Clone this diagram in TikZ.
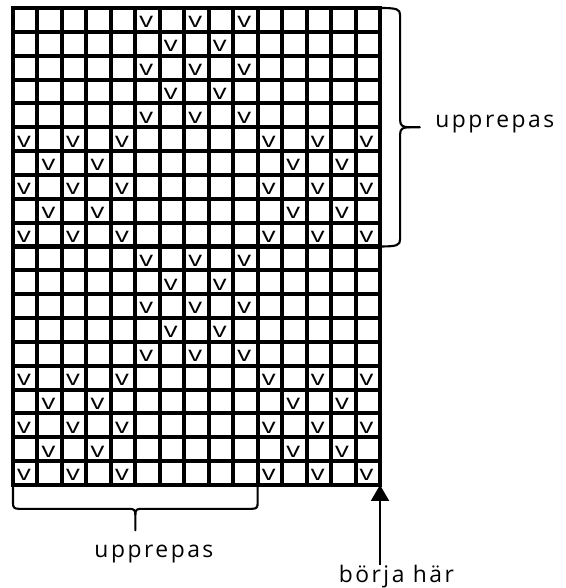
\documentclass[tikz,border=0pt]{standalone}
\usepackage{fontspec}
\usetikzlibrary{arrows.meta}
\newfontfamily\labelfont[LetterSpace=11]{Open Sans}
\newfontfamily\stitchfont{Open Sans}
\definecolor{chartBlack}{RGB}{0, 0, 0}

\begin{document}
\begin{tikzpicture}[x=0.4894cm, y=-0.477cm,
    gridline/.style={chartBlack, line width=2.3pt, line cap=rect},
    bracepath/.style={chartBlack, line width=1.2pt, line cap=round, line join=round},
    stitch/.style={font=\stitchfont\fontsize{12}{12}\selectfont, inner sep=0pt, anchor=base},
    label/.style={font=\labelfont\fontsize{13}{13}\selectfont, inner sep=0pt}]
  \useasboundingbox (-0.531,-0.335) rectangle (22.60,24.32);
  % chart grid, 15 stitches x 20 rows
  \foreach \c in {0,...,15}
    \draw[gridline] (\c,0) -- (\c,20);
  \foreach \r in {0,...,20}
    \draw[gridline] (0,\r) -- (15,\r);
  % v stitches, rows counted from the top
  \foreach \r/\cols in {1/{6,8,10}, 2/{7,9}, 3/{6,8,10}, 4/{7,9}, 5/{6,8,10},
      6/{1,3,5,11,13,15}, 7/{2,4,12,14}, 8/{1,3,5,11,13,15}, 9/{2,4,12,14}, 10/{1,3,5,11,13,15},
      11/{6,8,10}, 12/{7,9}, 13/{6,8,10}, 14/{7,9}, 15/{6,8,10},
      16/{1,3,5,11,13,15}, 17/{2,4,12,14}, 18/{1,3,5,11,13,15}, 19/{2,4,12,14}, 20/{1,3,5,11,13,15}}
    \foreach \c in \cols
      \node[stitch] (v-\r-\c) at (\c-0.55,\r-0.17) {\scalebox{1.3}[1]{v}};
  % brace over the repeated rows
  \draw[bracepath] (15,0) .. controls (15.7,0) and (15.82,0.05) .. (15.82,0.3) -- (15.82,4.7)
    .. controls (15.82,4.95) and (15.95,5) .. (16.2,5) -- (16.63,5);
  \draw[bracepath] (16.2,5) .. controls (15.95,5) and (15.82,5.05) .. (15.82,5.3) -- (15.82,9.7)
    .. controls (15.82,9.95) and (15.7,10) .. (15,10);
  % brace under the repeated stitches
  \draw[bracepath] (0,20.1) -- (0,20.75) .. controls (0,20.95) and (0.05,21) .. (0.25,21) -- (4.75,21)
    .. controls (4.95,21) and (5,21.05) .. (5,21.25) -- (5,21.9);
  \draw[bracepath] (5,21.25) .. controls (5,21.05) and (5.05,21) .. (5.25,21) -- (9.75,21)
    .. controls (9.95,21) and (10,20.95) .. (10,20.75) -- (10,20.1);
  \node[label, anchor=base west] (repeatRows) at (17.25,5) {upprepas};
  \node[label, anchor=base] (repeatCols) at (5.76,23.06) {upprepas};
  \node[label, anchor=base] (startLabel) at (15.67,24.07) {börja här};
  % start arrow
  \coordinate (start) at (15,20);
  \coordinate (arrowFoot) at (15,23.35);
  \draw[chartBlack, line width=1.2pt, -{Triangle[width=0.36cm,length=0.32cm]}] (arrowFoot) -- (start);
\end{tikzpicture}
\end{document}
